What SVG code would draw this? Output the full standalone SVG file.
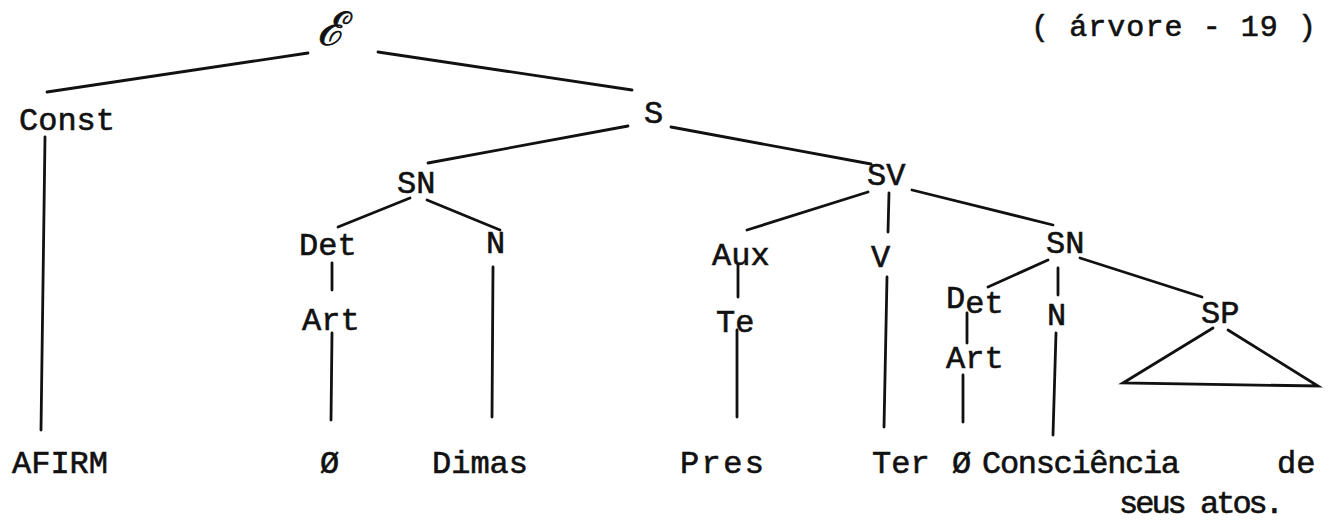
<svg xmlns="http://www.w3.org/2000/svg" width="1334" height="528" viewBox="0 0 1334 528">
<style>
  .t { font-family: "Liberation Mono", "DejaVu Sans Mono", monospace; font-size: 32px; fill: #111; stroke: #111; stroke-width: 0.6; }
  .title { font-family: "Liberation Mono", "DejaVu Sans Mono", monospace; font-size: 30px; fill: #111; stroke: #111; stroke-width: 0.6; }
  .script { font-family: "DejaVu Serif", "Liberation Serif", serif; font-style: italic; font-size: 46px; fill: #111; stroke: #111; stroke-width: 0.8; }
  .c line, .c polyline { stroke: #111; stroke-width: 2.8; stroke-linecap: round; fill: none; }
</style>
<rect width="1334" height="528" fill="#fff"/>
<g id="connectors" class="c">
  <line x1="308" y1="53" x2="47" y2="92"/>
  <line x1="378" y1="52" x2="632" y2="90"/>
  <line x1="628" y1="126" x2="428" y2="163"/>
  <line x1="671" y1="127" x2="871" y2="164"/>
  <line x1="410" y1="198" x2="338" y2="227"/>
  <line x1="427" y1="200" x2="500" y2="230"/>
  <line x1="332" y1="263" x2="332" y2="290"/>
  <line x1="332" y1="333" x2="331" y2="420"/>
  <line x1="493" y1="267" x2="492" y2="417"/>
  <line x1="45" y1="137" x2="41" y2="430"/>
  <line x1="868" y1="192" x2="747" y2="230"/>
  <line x1="889" y1="193" x2="888" y2="232"/>
  <line x1="912" y1="190" x2="1053" y2="225"/>
  <line x1="738" y1="265" x2="738" y2="297"/>
  <line x1="737" y1="330" x2="737" y2="417"/>
  <line x1="887" y1="277" x2="884" y2="427"/>
  <line x1="1048" y1="260" x2="988" y2="287"/>
  <line x1="1058" y1="268" x2="1058" y2="295"/>
  <line x1="1080" y1="258" x2="1202" y2="297"/>
  <line x1="967" y1="313" x2="967" y2="343"/>
  <line x1="963" y1="375" x2="963" y2="422"/>
  <line x1="1056" y1="333" x2="1053" y2="435"/>
  <polyline points="1213,328 1123,383 1318,386 1228,330"/>
</g>
<g id="title"><text class="title" x="1031" y="36" textLength="285" lengthAdjust="spacing">( árvore - 19 )</text></g>
<g id="root"><text class="script" x="331" y="45" text-anchor="middle">ℰ</text></g>
<g id="const"><text class="t" x="19" y="130">Const</text></g>
<g id="s"><text class="t" x="644" y="123">S</text></g>
<g id="sn1"><text class="t" x="397" y="193">SN</text></g>
<g id="sv"><text class="t" x="867" y="185">SV</text></g>
<g id="det1"><text class="t" x="299" y="255">Det</text></g>
<g id="n1"><text class="t" x="486" y="253">N</text></g>
<g id="art1"><text class="t" x="302" y="330">Art</text></g>
<g id="aux"><text class="t" x="712" y="265">Aux</text></g>
<g id="te"><text class="t" x="716" y="332">Te</text></g>
<g id="v"><text class="t" x="871" y="267">V</text></g>
<g id="sn2"><text class="t" x="1046" y="253">SN</text></g>
<g id="det2"><text class="t" x="946" y="313"><tspan dy="-5">D</tspan><tspan dy="5">et</tspan></text></g>
<g id="n2"><text class="t" x="1047" y="325">N</text></g>
<g id="sp"><text class="t" x="1201" y="323">SP</text></g>
<g id="art2"><text class="t" x="946" y="368">Art</text></g>
<g id="afirm"><text class="t" x="12" y="473">AFIRM</text></g>
<g id="zero1"><text class="t" x="320" y="473">Ø</text></g>
<g id="dimas"><text class="t" x="432" y="473">Dimas</text></g>
<g id="pres"><text class="t" x="680" y="473" textLength="84" lengthAdjust="spacing">Pres</text></g>
<g id="ter"><text class="t" x="872" y="473">Ter</text></g>
<g id="zero2"><text class="t" x="952" y="473">Ø</text></g>
<g id="consciencia"><text class="t" x="982" y="473" textLength="198" lengthAdjust="spacing">Consciência</text></g>
<g id="de"><text class="t" x="1277" y="473">de</text></g>
<g id="seus"><text class="t" x="1119" y="513" textLength="165" lengthAdjust="spacing">seus atos.</text></g>
</svg>
